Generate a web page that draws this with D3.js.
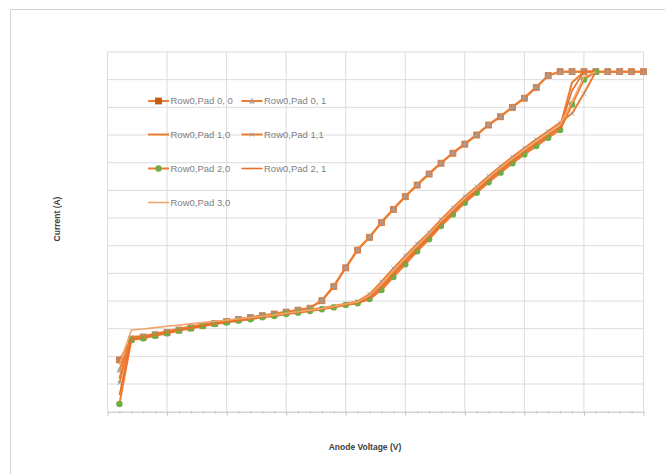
<!DOCTYPE html>
<html><head><meta charset="utf-8">
<script src="https://cdn.jsdelivr.net/npm/d3@7"></script>
<style>body{margin:0;background:#fff}svg{display:block}</style>
</head><body>
<svg id="c" width="665" height="474"></svg>
<script>
const voltages = [1,2,3,4,5,6,7,8,9,10,11,12,13,14,15,16,17,18,19,20,21,22,23,24,25,26,27,28,29,30,31,32,33,34,35,36,37,38,39,40,41,42,43,44,45];
const seriesNames = ["Row0,Pad 0, 0","Row0,Pad 0, 1","Row0,Pad 1,0","Row0,Pad 1,1","Row0,Pad 2,0","Row0,Pad 2, 1","Row0,Pad 3,0"];
const pad00 = [1.87,2.62,2.70,2.78,2.86,2.95,3.03,3.11,3.19,3.26,3.33,3.40,3.47,3.53,3.60,3.67,3.74,4.01,4.52,5.20,5.84,6.30,6.83,7.31,7.77,8.19,8.59,8.98,9.34,9.67,10.00,10.36,10.66,11.00,11.33,11.72,12.15,12.29,12.29,12.29,12.29,12.29,12.29,12.29,12.29];
const pad01 = [1.51,2.64,2.71,2.79,2.87,2.96,3.04,3.12,3.20,3.27,3.34,3.41,3.48,3.54,3.61,3.68,3.75,4.03,4.55,5.22,5.86,6.32,6.85,7.33,7.79,8.21,8.61,9.00,9.36,9.69,10.02,10.38,10.68,11.02,11.35,11.74,12.15,12.29,12.29,12.29,12.29,12.29,12.29,12.29,12.29];
const pad10 = [1.20,2.66,2.71,2.79,2.88,2.97,3.05,3.13,3.20,3.26,3.32,3.38,3.44,3.50,3.56,3.61,3.67,3.73,3.80,3.88,3.96,4.16,4.55,5.02,5.48,5.94,6.36,6.83,7.25,7.66,8.02,8.40,8.75,9.09,9.41,9.71,10.01,10.30,11.90,12.29,12.29];
const pad11 = [1.04,2.70,2.74,2.82,2.91,3.00,3.08,3.15,3.22,3.28,3.34,3.40,3.46,3.52,3.58,3.63,3.69,3.75,3.82,3.90,3.99,4.25,4.70,5.18,5.63,6.07,6.48,6.95,7.37,7.78,8.14,8.52,8.87,9.21,9.53,9.84,10.14,10.45,10.78,11.50,12.29];
const pad20 = [0.28,2.59,2.65,2.74,2.83,2.93,3.01,3.10,3.17,3.22,3.29,3.34,3.41,3.46,3.53,3.58,3.64,3.70,3.77,3.86,3.92,4.07,4.40,4.87,5.33,5.80,6.23,6.71,7.13,7.55,7.91,8.29,8.64,8.98,9.30,9.60,9.90,10.18,11.10,12.00,12.29];
const pad21 = [0.60,2.63,2.68,2.77,2.86,2.95,3.03,3.11,3.18,3.24,3.30,3.36,3.42,3.48,3.54,3.59,3.65,3.71,3.78,3.87,3.94,4.12,4.48,4.95,5.41,5.87,6.30,6.78,7.20,7.62,7.98,8.36,8.71,9.05,9.37,9.67,9.97,10.26,11.60,12.29,12.29];
const pad30 = [1.70,2.95,2.99,3.04,3.09,3.13,3.18,3.22,3.27,3.31,3.36,3.40,3.45,3.50,3.56,3.61,3.67,3.73,3.80,3.89,3.97,4.20,4.62,5.10,5.56,6.01,6.42,6.89,7.31,7.72,8.08,8.46,8.81,9.15,9.47,9.78,10.08,10.38,11.20,12.10,12.29];
const xMajorTicks = [0,5,10,15,20,25,30,35,40,45];
const yMajorTicks = [0,1,2,3,4,5,6,7,8,9,10,11,12,13];

const styles = [
  {color:"#ED7D31", w:2, marker:"square", fill:"#B4866A", stroke:"#D9753A", size:6},
  {color:"#ED7D31", w:2, marker:"triangle", fill:"#A89C94", stroke:"#A89C94", size:6},
  {color:"#ED7D31", w:2, marker:null},
  {color:"#ED7D31", w:2, marker:"cross", fill:"#9A9A9A", stroke:"#9A9A9A", size:4},
  {color:"#ED7D31", w:2, marker:"circle", fill:"#70AD47", stroke:"#70AD47", size:3.2},
  {color:"#E8702A", w:1.6, marker:null},
  {color:"#F4A46A", w:1.6, marker:null}
];
const seriesValues = [pad00,pad01,pad10,pad11,pad20,pad21,pad30];

const svg = d3.select("#c");
const W = 665, H = 474;
const m = {l:107.5, r:643.5, t:52, b:411.7};
const x = d3.scaleLinear().domain([0,45]).range([m.l, m.r]);
const y = d3.scaleLinear().domain([0,13]).range([m.b, m.t]);

// chart border
svg.append("rect").attr("x",10.5).attr("y",9.5).attr("width",700).attr("height",500)
  .attr("fill","#fff").attr("stroke","#d4d4d4").attr("stroke-width",1);

// gridlines
const grid = svg.append("g");
grid.selectAll("line.h").data(yMajorTicks.slice(1)).join("line")
  .attr("x1",m.l).attr("x2",m.r).attr("y1",d=>y(d)).attr("y2",d=>y(d))
  .attr("stroke","#dcdcdc").attr("stroke-width",1);
grid.selectAll("line.v").data(xMajorTicks).join("line")
  .attr("x1",d=>x(d)).attr("x2",d=>x(d)).attr("y1",m.t).attr("y2",m.b)
  .attr("stroke","#dcdcdc").attr("stroke-width",1);

// x axis
const minor = voltages.filter(v => v % 5 !== 0);
const xAxis = svg.append("g").attr("transform",`translate(0,${m.b})`)
  .call(d3.axisBottom(x).tickValues(xMajorTicks).tickFormat("").tickSize(4).tickSizeOuter(0));
xAxis.select(".domain").attr("stroke","#bfbfbf");
xAxis.selectAll(".tick line").attr("stroke","#bfbfbf");
const xMinor = svg.append("g").attr("transform",`translate(0,${m.b-1})`)
  .call(d3.axisBottom(x).tickValues(minor).tickFormat("").tickSize(3).tickSizeOuter(0));
xMinor.select(".domain").remove();
xMinor.selectAll(".tick line").attr("stroke","#c8c8c8");

// lines
const line = d3.line().x((d,i)=>x(voltages[i])).y(d=>y(d));
const plot = svg.append("g");
function drawMarker(g, type, st, cx, cy){
  const s = st.size;
  if(type==="square") g.append("rect").attr("x",cx-s/2).attr("y",cy-s/2).attr("width",s).attr("height",s).attr("fill",st.fill).attr("stroke",st.stroke).attr("stroke-width",0.8);
  else if(type==="triangle") g.append("path").attr("d",`M${cx},${cy-s/2-0.5}L${cx+s/2},${cy+s/2-0.5}L${cx-s/2},${cy+s/2-0.5}Z`).attr("fill",st.fill).attr("opacity",0.85);
  else if(type==="circle") g.append("circle").attr("cx",cx).attr("cy",cy).attr("r",s).attr("fill",st.fill);
  else if(type==="cross") g.append("path").attr("d",`M${cx-s/2},${cy-s/2}L${cx+s/2},${cy+s/2}M${cx-s/2},${cy+s/2}L${cx+s/2},${cy-s/2}`).attr("stroke",st.stroke).attr("stroke-width",1);
}
seriesValues.forEach((vals,k)=>{
  const st = styles[k];
  const g = plot.append("g");
  g.append("path").datum(vals).attr("d",line).attr("fill","none")
    .attr("stroke",st.color).attr("stroke-width",st.w).attr("stroke-linejoin","round");
  if(st.marker){
    vals.forEach((v,i)=>drawMarker(g, st.marker, st, x(voltages[i]), y(v)));
  }
});

// legend
const legPos = [[148,101],[241.5,101],[148,134.5],[241.5,134.5],[148,168.5],[241.5,168.5],[148,202.5]];
const leg = svg.append("g");
seriesNames.forEach((name,k)=>{
  const [lx,ly] = legPos[k]; const st = styles[k];
  const g = leg.append("g");
  g.append("line").attr("x1",lx).attr("x2",lx+21).attr("y1",ly).attr("y2",ly)
    .attr("stroke",st.color).attr("stroke-width",st.w);
  if(st.marker) drawMarker(g, st.marker, k===0?{...st,fill:"#C55A11",stroke:"#C55A11"}:st, lx+10.5, ly);
  g.append("text").attr("x",lx+22.5).attr("y",ly+3.3).text(name)
    .attr("font-family","Liberation Sans, Arial, sans-serif").attr("font-size",9.5).attr("fill","#7f7f7f");
});

// axis titles
svg.append("text").attr("transform",`translate(60,219) rotate(-90)`).attr("text-anchor","middle")
  .attr("font-family","Liberation Sans, Arial, sans-serif").attr("font-weight","bold").attr("font-size",8.5)
  .attr("fill","#404040").text("Current (A)");
svg.append("text").attr("x",365).attr("y",450).attr("text-anchor","middle")
  .attr("font-family","Liberation Sans, Arial, sans-serif").attr("font-weight","bold").attr("font-size",8.5)
  .attr("fill","#404040").text("Anode Voltage (V)");
</script>
</body></html>
